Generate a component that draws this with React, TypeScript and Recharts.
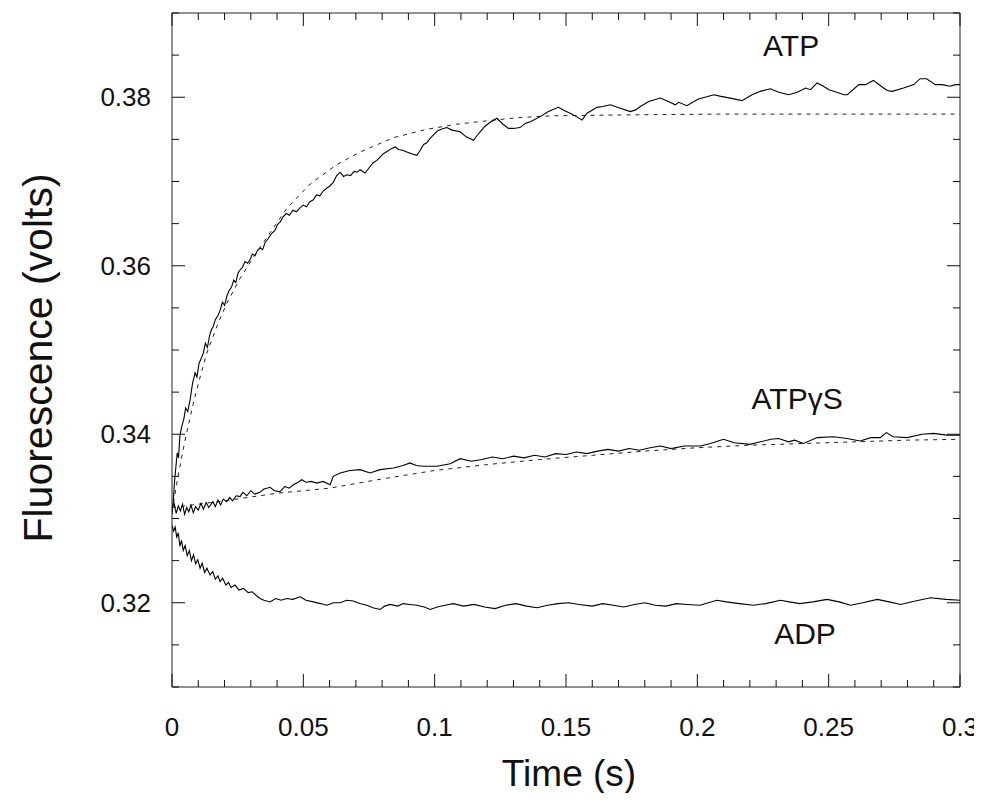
import React from "react";
import { LineChart, Line, XAxis, YAxis, ReferenceDot, Label } from "recharts";

const FONT = '"Liberation Sans", Arial, Helvetica, sans-serif';

// axis ticks (minor every 0.01 s / 0.005 V, labelled ones picked below)
const timeTicks = [
  0, 0.01, 0.02, 0.03, 0.04, 0.05, 0.06, 0.07, 0.08, 0.09, 0.1, 0.11, 0.12, 0.13, 0.14, 0.15,
  0.16, 0.17, 0.18, 0.19, 0.2, 0.21, 0.22, 0.23, 0.24, 0.25, 0.26, 0.27, 0.28, 0.29, 0.3,
];
const fluorTicks = [
  0.31, 0.315, 0.32, 0.325, 0.33, 0.335, 0.34, 0.345, 0.35, 0.355, 0.36, 0.365, 0.37, 0.375,
  0.38, 0.385, 0.39,
];

type P = [number, number];

// ATP stopped-flow trace
const atpTrace: P[] = [
  [0, 0.3305], [0.0005, 0.3322], [0.001, 0.3345], [0.0015, 0.3362], [0.002, 0.3378],
  [0.0025, 0.3372], [0.003, 0.3398], [0.0037, 0.3409], [0.0045, 0.3418], [0.0052, 0.3431],
  [0.006, 0.3427], [0.0069, 0.3441], [0.0078, 0.346], [0.0088, 0.3473], [0.0095, 0.3468],
  [0.0103, 0.3484], [0.0111, 0.349], [0.0119, 0.3496], [0.0127, 0.3508], [0.0135, 0.3503],
  [0.0143, 0.3517], [0.015, 0.3524], [0.0157, 0.3528], [0.0165, 0.3536], [0.0175, 0.3541],
  [0.0183, 0.3547], [0.0192, 0.3557], [0.02, 0.3553], [0.021, 0.3565], [0.0218, 0.3571],
  [0.0227, 0.3575], [0.0235, 0.3583], [0.0243, 0.358], [0.0251, 0.3591], [0.0259, 0.3595],
  [0.0268, 0.3598], [0.0278, 0.3605], [0.0288, 0.3603], [0.0297, 0.3607], [0.0306, 0.3614],
  [0.0316, 0.3612], [0.0325, 0.3618], [0.0335, 0.3621], [0.0345, 0.3619], [0.0355, 0.3628],
  [0.0366, 0.3632], [0.0378, 0.3638], [0.0392, 0.3642], [0.0402, 0.3649], [0.0412, 0.3652],
  [0.0423, 0.3658], [0.0435, 0.3662], [0.0447, 0.366], [0.046, 0.3666], [0.0474, 0.3664],
  [0.0488, 0.3669], [0.05, 0.3672], [0.0512, 0.367], [0.0525, 0.3676], [0.0537, 0.3678],
  [0.055, 0.3684], [0.0563, 0.3683], [0.0576, 0.3689], [0.0589, 0.3692], [0.0602, 0.3695],
  [0.0614, 0.3699], [0.0627, 0.3707], [0.064, 0.3711], [0.0653, 0.3706], [0.0666, 0.3708],
  [0.068, 0.3707], [0.0693, 0.3712], [0.0705, 0.3711], [0.0716, 0.3714], [0.0735, 0.371],
  [0.075, 0.3716], [0.0765, 0.3722], [0.078, 0.3725], [0.0792, 0.3729], [0.0805, 0.3733],
  [0.082, 0.3736], [0.0835, 0.3739], [0.085, 0.3741], [0.0862, 0.3738], [0.0878, 0.3737],
  [0.0894, 0.3735], [0.0912, 0.3733], [0.0932, 0.3731], [0.0945, 0.3737], [0.0958, 0.3744],
  [0.097, 0.3746], [0.0985, 0.3752], [0.0995, 0.3755], [0.101, 0.376], [0.1025, 0.3762],
  [0.1046, 0.3764], [0.1066, 0.3761], [0.1097, 0.3759], [0.112, 0.3753], [0.1148, 0.3749],
  [0.116, 0.3754], [0.1173, 0.3759], [0.119, 0.3765], [0.121, 0.377], [0.1237, 0.3775],
  [0.126, 0.3768], [0.1281, 0.3763], [0.13, 0.3763], [0.1325, 0.3764], [0.1345, 0.3769],
  [0.1364, 0.3771], [0.1402, 0.3777], [0.1433, 0.3783], [0.1471, 0.3788], [0.1495, 0.3784],
  [0.1516, 0.3781], [0.154, 0.3777], [0.1561, 0.3773], [0.158, 0.3781], [0.1618, 0.3788],
  [0.164, 0.3789], [0.1669, 0.3791], [0.1707, 0.3787], [0.1745, 0.3783], [0.1765, 0.3785],
  [0.1783, 0.3789], [0.1815, 0.3795], [0.1859, 0.3799], [0.189, 0.3795], [0.1916, 0.3791],
  [0.1929, 0.3794], [0.196, 0.379], [0.2004, 0.3798], [0.204, 0.3801], [0.2062, 0.3803],
  [0.209, 0.3801], [0.2125, 0.3799], [0.217, 0.3796], [0.2208, 0.3803], [0.224, 0.3807],
  [0.2278, 0.381], [0.231, 0.3806], [0.2348, 0.3803], [0.238, 0.3806], [0.2412, 0.3811],
  [0.2431, 0.3809], [0.2456, 0.3817], [0.248, 0.3813], [0.2501, 0.3809], [0.253, 0.3806],
  [0.2558, 0.3803], [0.2571, 0.3803], [0.2615, 0.3815], [0.264, 0.3815], [0.267, 0.382],
  [0.27, 0.3813], [0.2723, 0.3808], [0.2742, 0.3807], [0.2785, 0.3811], [0.2824, 0.3815],
  [0.2848, 0.3822], [0.2873, 0.3822], [0.2906, 0.3815], [0.2931, 0.3815], [0.2963, 0.3813],
  [0.2982, 0.3815], [0.3, 0.3815],
];

// fitted curve for ATP (dashed)
const atpFit: P[] = [
  [0, 0.3308], [0.002, 0.3345], [0.004, 0.3378], [0.0056, 0.3402], [0.008, 0.3435],
  [0.01, 0.346], [0.0132, 0.3496], [0.0176, 0.3532], [0.0208, 0.3555], [0.0259, 0.3585],
  [0.0316, 0.3613], [0.0375, 0.364], [0.0437, 0.3668], [0.0526, 0.3697], [0.0627, 0.372],
  [0.0716, 0.3735], [0.0843, 0.3752], [0.097, 0.3762], [0.1084, 0.3768], [0.1198, 0.3772],
  [0.1325, 0.3776], [0.1452, 0.3778], [0.1707, 0.3779], [0.2087, 0.378], [0.25, 0.378],
  [0.3, 0.378],
];

// ATPgammaS trace
const atpgsTrace: P[] = [
  [0, 0.3312], [0.0008, 0.3318], [0.0016, 0.3306], [0.0024, 0.3315], [0.0032, 0.3309],
  [0.004, 0.3317], [0.0048, 0.3305], [0.0056, 0.3313], [0.0064, 0.3308], [0.0072, 0.3316],
  [0.0081, 0.3307], [0.009, 0.3314], [0.01, 0.331], [0.011, 0.3318], [0.012, 0.3311],
  [0.013, 0.3319], [0.014, 0.3313], [0.0156, 0.332], [0.0165, 0.3314], [0.0175, 0.3322],
  [0.0185, 0.3316], [0.0195, 0.3323], [0.0208, 0.332], [0.022, 0.3325], [0.023, 0.3321],
  [0.0245, 0.3327], [0.0259, 0.3326], [0.027, 0.3331], [0.0285, 0.3327], [0.03, 0.3333],
  [0.0315, 0.3329], [0.0335, 0.3331], [0.035, 0.3335], [0.0361, 0.3336], [0.0373, 0.3337],
  [0.039, 0.3333], [0.0411, 0.3332], [0.043, 0.3338], [0.0446, 0.3336], [0.0462, 0.334],
  [0.048, 0.3343], [0.0494, 0.3346], [0.051, 0.3343], [0.053, 0.3344], [0.0551, 0.3342],
  [0.0575, 0.3344], [0.0602, 0.334], [0.0614, 0.335], [0.064, 0.3354], [0.0678, 0.3357],
  [0.0716, 0.3358], [0.0754, 0.3354], [0.0792, 0.3358], [0.0843, 0.336], [0.088, 0.3363],
  [0.0906, 0.3366], [0.093, 0.3363], [0.0957, 0.3362], [0.1008, 0.3362], [0.1059, 0.3365],
  [0.1097, 0.3371], [0.114, 0.3368], [0.118, 0.337], [0.122, 0.3373], [0.126, 0.3371],
  [0.13, 0.3374], [0.134, 0.3372], [0.138, 0.3375], [0.142, 0.3373], [0.146, 0.3377],
  [0.15, 0.3376], [0.154, 0.3379], [0.158, 0.3377], [0.162, 0.338], [0.166, 0.3382],
  [0.17, 0.338], [0.174, 0.3383], [0.178, 0.3381], [0.182, 0.3384], [0.186, 0.3386],
  [0.19, 0.3383], [0.195, 0.3386], [0.2011, 0.3386], [0.205, 0.3389], [0.21, 0.3394],
  [0.214, 0.339], [0.2201, 0.3388], [0.224, 0.3391], [0.228, 0.3394], [0.231, 0.3395],
  [0.2347, 0.3391], [0.237, 0.3393], [0.2404, 0.3389], [0.2456, 0.3396], [0.2518, 0.3397],
  [0.257, 0.3395], [0.262, 0.3392], [0.266, 0.3396], [0.2696, 0.3396], [0.272, 0.3402],
  [0.2745, 0.3397], [0.2798, 0.3396], [0.2856, 0.34], [0.29, 0.3401], [0.295, 0.3399],
  [0.3, 0.3399],
];

// fitted curve for ATPgammaS (dashed)
const atpgsFit: P[] = [
  [0, 0.3313], [0.02, 0.3321], [0.04, 0.333], [0.06, 0.3336], [0.08, 0.3347], [0.1, 0.3357],
  [0.12, 0.3364], [0.14, 0.337], [0.16, 0.3375], [0.18, 0.338], [0.2, 0.3384], [0.22, 0.3387],
  [0.24, 0.3389], [0.26, 0.3391], [0.28, 0.3393], [0.3, 0.3394],
];

// ADP trace
const adpTrace: P[] = [
  [0, 0.3292], [0.0006, 0.3285], [0.0012, 0.329], [0.0018, 0.3278], [0.0024, 0.3283],
  [0.003, 0.3267], [0.0036, 0.3274], [0.0043, 0.3262], [0.005, 0.3268], [0.0058, 0.3256],
  [0.0066, 0.3262], [0.0074, 0.325], [0.0082, 0.3257], [0.009, 0.3246], [0.0098, 0.3251],
  [0.0107, 0.3241], [0.0115, 0.3247], [0.0124, 0.3236], [0.0133, 0.3241], [0.0145, 0.3233],
  [0.0155, 0.3237], [0.0165, 0.3228], [0.0175, 0.3232], [0.0183, 0.3225], [0.0193, 0.3229],
  [0.0205, 0.3221], [0.0215, 0.3224], [0.0225, 0.3218], [0.024, 0.3221], [0.0255, 0.3215],
  [0.0272, 0.3217], [0.029, 0.3212], [0.0305, 0.3213], [0.0323, 0.3208], [0.0335, 0.3205],
  [0.035, 0.3203], [0.0373, 0.3201], [0.0395, 0.3205], [0.0415, 0.3203], [0.0437, 0.3205],
  [0.046, 0.3204], [0.0488, 0.3207], [0.051, 0.3203], [0.0538, 0.3201], [0.0565, 0.3199],
  [0.0589, 0.3197], [0.0615, 0.32], [0.064, 0.32], [0.0665, 0.3203], [0.069, 0.3202],
  [0.0715, 0.3199], [0.0741, 0.3197], [0.0765, 0.3194], [0.0792, 0.3192], [0.081, 0.3196],
  [0.083, 0.3198], [0.086, 0.3196], [0.088, 0.3199], [0.0905, 0.3198], [0.0932, 0.3197],
  [0.096, 0.3195], [0.0983, 0.3192], [0.101, 0.3195], [0.104, 0.3197], [0.1071, 0.3199],
  [0.111, 0.3196], [0.115, 0.3198], [0.119, 0.3195], [0.123, 0.3193], [0.127, 0.3197],
  [0.131, 0.3199], [0.135, 0.3196], [0.139, 0.3194], [0.143, 0.3197], [0.147, 0.3199],
  [0.151, 0.32], [0.155, 0.3198], [0.16, 0.3196], [0.164, 0.3199], [0.168, 0.3197],
  [0.172, 0.3195], [0.176, 0.3198], [0.18, 0.32], [0.184, 0.3197], [0.188, 0.3196],
  [0.192, 0.3199], [0.196, 0.3198], [0.201, 0.3197], [0.2074, 0.3203], [0.211, 0.3201],
  [0.216, 0.3199], [0.2214, 0.3197], [0.226, 0.3199], [0.2316, 0.3203], [0.235, 0.3201],
  [0.239, 0.3199], [0.244, 0.3201], [0.2494, 0.3204], [0.254, 0.3201], [0.2583, 0.3197],
  [0.263, 0.32], [0.2685, 0.3204], [0.273, 0.3201], [0.2774, 0.3198], [0.283, 0.3202],
  [0.2888, 0.3206], [0.2946, 0.3204], [0.3, 0.3203],
];

const toRows = (pts: P[]) => pts.map(([t, v]) => ({ t, v }));

const isMajorT = (v: number) => Math.abs(v * 20 - Math.round(v * 20)) < 1e-6;
const isMajorF = (v: number) => Math.abs(v * 50 - Math.round(v * 50)) < 1e-6;

const MAJOR = 13;
const MINOR = 7;
const INK = "#111";

const BottomTick = (props: any) => {
  const { x, y, payload } = props;
  const major = isMajorT(payload.value);
  return (
    <g>
      <line x1={x} x2={x} y1={y} y2={y - (major ? MAJOR : MINOR)} stroke={INK} />
      {major && (
        <text x={x} y={y + 40} textAnchor="middle" dominantBaseline="central" fontSize={26} fontFamily={FONT} fill={INK}>
          {String(payload.value)}
        </text>
      )}
    </g>
  );
};

const TopTick = (props: any) => {
  const { x, y, payload } = props;
  const major = isMajorT(payload.value);
  return <line x1={x} x2={x} y1={y} y2={y + (major ? MAJOR : MINOR)} stroke={INK} />;
};

const LeftTick = (props: any) => {
  const { x, y, payload } = props;
  const major = isMajorF(payload.value);
  return (
    <g>
      <line x1={x} x2={x + (major ? MAJOR : MINOR)} y1={y} y2={y} stroke={INK} />
      {major && (
        <text x={x - 21} y={y} textAnchor="end" dominantBaseline="central" fontSize={26} fontFamily={FONT} fill={INK}>
          {payload.value.toFixed(2)}
        </text>
      )}
    </g>
  );
};

const RightTick = (props: any) => {
  const { x, y, payload } = props;
  const major = isMajorF(payload.value);
  return <line x1={x} x2={x - (major ? MAJOR : MINOR)} y1={y} y2={y} stroke={INK} />;
};

const seriesLabel = (value: string) => ({
  value,
  position: "center" as const,
  fontSize: 30,
  fontFamily: FONT,
  fill: INK,
});

const axisCommon = {
  type: "number" as const,
  interval: 0 as const,
  tickSize: 0,
  tickMargin: 0,
  tickLine: false,
  axisLine: { stroke: "#222" },
  allowDataOverflow: true,
};

export default function App() {
  return (
    <div style={{ width: 966, height: 785, fontFamily: FONT, background: "#fff", overflow: "visible" }}>
      <style>{`svg.recharts-surface { overflow: visible !important; } .recharts-wrapper { overflow: visible !important; }`}</style>
      <LineChart width={966} height={785} margin={{ top: 4, right: 13, bottom: 105, left: 163 }} style={{ overflow: "visible" }}>
        <XAxis {...axisCommon} dataKey="t" domain={[0, 0.3]} ticks={timeTicks} height={1} tick={<BottomTick />}>
          <Label
            content={(p: any) => {
              const vb = p.viewBox || {};
              return (
                <text x={vb.x + vb.width / 2 + 3} y={vb.y + 86} textAnchor="middle" dominantBaseline="central" fontSize={37} fontFamily={FONT} fill={INK}>
                  Time (s)
                </text>
              );
            }}
          />
        </XAxis>
        <XAxis {...axisCommon} xAxisId="top" orientation="top" dataKey="t" domain={[0, 0.3]} ticks={timeTicks} height={1} tick={<TopTick />} />
        <YAxis {...axisCommon} domain={[0.31, 0.39]} ticks={fluorTicks} width={1} tick={<LeftTick />}>
          <Label
            content={(p: any) => {
              const vb = p.viewBox || {};
              const cx = vb.x - 133;
              const cy = vb.y + vb.height / 2 + 8;
              return (
                <text x={cx} y={cy} transform={`rotate(-90 ${cx} ${cy})`} textAnchor="middle" dominantBaseline="central" fontSize={41} fontFamily={FONT} fill={INK}>
                  Fluorescence (volts)
                </text>
              );
            }}
          />
        </YAxis>
        <YAxis {...axisCommon} yAxisId="right" orientation="right" domain={[0.31, 0.39]} ticks={fluorTicks} width={1} tick={<RightTick />} />

        <Line data={toRows(atpFit)} dataKey="v" type="linear" stroke="#222" strokeWidth={1} strokeDasharray="4 5" dot={false} isAnimationActive={false} />
        <Line data={toRows(atpgsFit)} dataKey="v" type="linear" stroke="#222" strokeWidth={1} strokeDasharray="4 5" dot={false} isAnimationActive={false} />
        <Line data={toRows(atpTrace)} dataKey="v" type="linear" stroke="#000" strokeWidth={1.1} dot={false} isAnimationActive={false} />
        <Line data={toRows(atpgsTrace)} dataKey="v" type="linear" stroke="#000" strokeWidth={1.1} dot={false} isAnimationActive={false} />
        <Line data={toRows(adpTrace)} dataKey="v" type="linear" stroke="#000" strokeWidth={1.1} dot={false} isAnimationActive={false} />

        <ReferenceDot x={0.2357} y={0.3862} r={0} fill="none" stroke="none" label={seriesLabel("ATP")} />
        <ReferenceDot x={0.238} y={0.3443} r={0} fill="none" stroke="none" label={seriesLabel("ATPγS")} />
        <ReferenceDot x={0.241} y={0.3164} r={0} fill="none" stroke="none" label={seriesLabel("ADP")} />
      </LineChart>
    </div>
  );
}
